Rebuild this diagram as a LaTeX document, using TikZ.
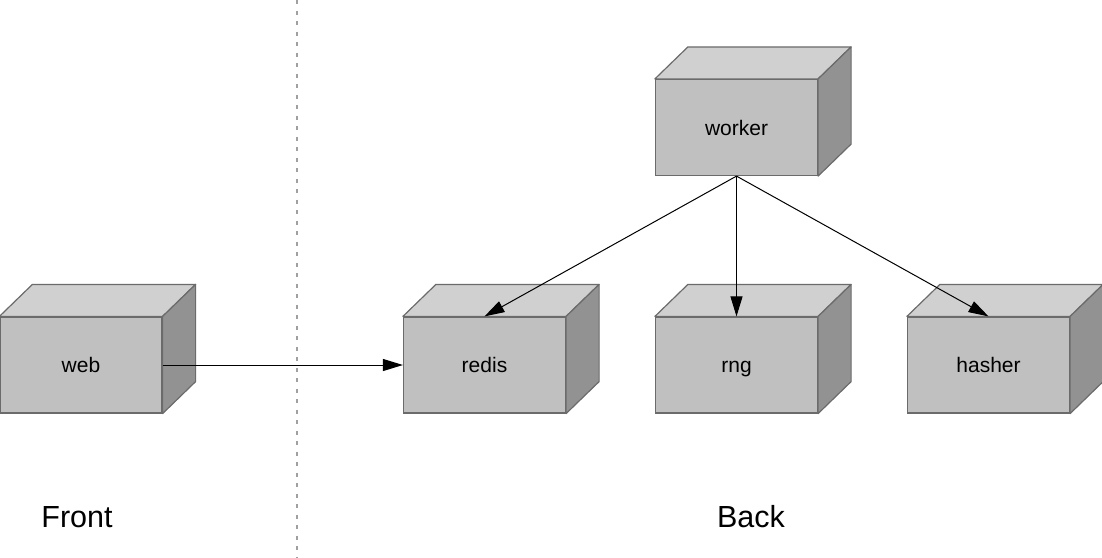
\documentclass[tikz,border=0pt]{standalone}
\usepackage{fontspec}
\setmainfont{Liberation Sans}
\usetikzlibrary{arrows.meta}
\definecolor{facefront}{HTML}{C0C0C0}
\definecolor{facetop}{HTML}{D0D0D0}
\definecolor{faceside}{HTML}{929292}
\definecolor{edgegrey}{HTML}{6B6B6B}
\definecolor{sepgrey}{HTML}{A0A0A0}
\tikzset{
  box/.style={draw=edgegrey, line width=1.2pt, fill=facefront, minimum width=162pt, minimum height=96pt, inner sep=0pt, text height=19pt, text depth=4pt, font=\fontsize{21}{25}\selectfont},
  boxtop/.style={draw=edgegrey, line width=1.2pt, fill=facetop, line join=round},
  boxside/.style={draw=edgegrey, line width=1.2pt, fill=faceside, line join=round},
  link/.style={draw=black, line width=1pt, -{Triangle[length=20pt,width=12pt]}},
  sep/.style={draw=sepgrey, line width=2pt, dash pattern=on 4pt off 6.5pt},
  zone/.style={font=\fontsize{30.5}{36}\selectfont, inner sep=0pt, anchor=base}
}
\newcommand{\cubefaces}[1]{%
  \path[boxtop] (#1.north west) -- ++(33,-32) -- ([xshift=33pt,yshift=32pt]#1.north east) -- (#1.north east) -- cycle;
  \path[boxside] (#1.north east) -- ++(33,-32) -- ([xshift=33pt,yshift=32pt]#1.south east) -- (#1.south east) -- cycle;
}
\begin{document}
\begin{tikzpicture}[x=1pt,y=-1pt]
\useasboundingbox (0,0) rectangle (1102,557);
\coordinate (septop) at (297,0);
\coordinate (sepbot) at (297,557);
\draw[sep] (septop) -- (sepbot);
\node[box] (web) at (81,365) {web};
\node[box] (redis) at (484.5,365) {redis};
\node[box] (rng) at (736.5,365) {rng};
\node[box] (hasher) at (988.5,365) {hasher};
\node[box] (worker) at (736.5,127.5) {worker};
\cubefaces{web}
\cubefaces{redis}
\cubefaces{rng}
\cubefaces{hasher}
\cubefaces{worker}
\draw[link] (web.east) -- (redis.west);
\draw[link] (worker.south) -- (redis.north);
\draw[link] (worker.south) -- (rng.north);
\draw[link] (worker.south) -- (hasher.north);
\node[zone] (front) at (77,527) {Front};
\node[zone] (back) at (751,527) {Back};
\end{tikzpicture}
\end{document}
